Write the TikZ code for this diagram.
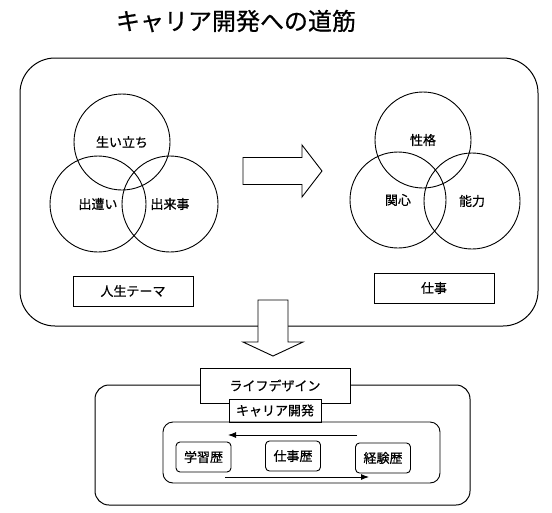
\documentclass[tikz,border=0pt]{standalone}
\usepackage{fontspec}
\setmainfont{Noto Sans CJK JP}[FakeBold=0.6]
\usetikzlibrary{arrows.meta}
\begin{document}
\begin{tikzpicture}[x=1pt,y=-1pt,
  every node/.style={font=\fontsize{13}{13}\selectfont},
  venn/.style={circle,draw,line width=0.9pt,minimum size=96pt,inner sep=0pt},
  lblbox/.style={draw,line width=0.9pt,fill=white,inner sep=0pt},
  histbox/.style={draw,line width=0.9pt,rounded corners=4pt,minimum width=55pt,minimum height=30pt,inner sep=0pt},
  bigarrow/.style={draw,line width=0.9pt,fill=white,line join=miter},
  flow/.style={line width=0.9pt,-{Latex[length=8pt,width=6pt]}}]
\useasboundingbox (0,0) rectangle (552,512);
\node[font=\fontsize{24}{24}\selectfont] (title) at (236,21) {キャリア開発への道筋};
% big container
\draw[line width=1pt,rounded corners=35pt] (20,58) rectangle (538,326);
% left venn
\node[venn] (c1) at (122,142) {生い立ち};
\node[venn] (c2) at (98,204) {出遭い};
\node[venn] (c3) at (170,204) {出来事};
\node[lblbox,minimum width=120pt,minimum height=30pt] (theme) at (133,291) {人生テーマ};
% right venn
\node[venn] (d1) at (423,140) {性格};
\node[venn] (d2) at (398,200) {関心};
\node[venn] (d3) at (472,201) {能力};
\node[lblbox,minimum width=120pt,minimum height=30pt] (work) at (434,288) {仕事};
% right big arrow
\draw[bigarrow] (243,157.5) -- (302,157.5) -- (302,145) -- (322,171) -- (302,197) -- (302,184.5) -- (243,184.5) -- cycle;
% down big arrow
\draw[bigarrow] (258,300) -- (288,300) -- (288,342) -- (303,342) -- (273,356) -- (243,342) -- (258,342) -- cycle;
% lower container
\draw[line width=1pt,rounded corners=14pt] (95,385) rectangle (470,505);
\node[lblbox,minimum width=150pt,minimum height=35pt] (life) at (275,385.5) {ライフデザイン};
\node[lblbox,minimum width=92pt,minimum height=23pt] (career) at (275,410.5) {キャリア開発};
\node[draw,line width=0.9pt,rounded corners=10pt,minimum width=277pt,minimum height=61pt,inner sep=0pt] (hist) at (301.5,452.5) {};
\node[histbox] (h1) at (203.5,457) {学習歴};
\node[histbox] (h2) at (293,456) {仕事歴};
\node[histbox] (h3) at (383,458) {経験歴};
\coordinate (a1s) at (357,435);
\coordinate (a1e) at (228,435);
\coordinate (a2s) at (225,477);
\coordinate (a2e) at (369,477);
\draw[flow] (a1s) -- (a1e);
\draw[flow] (a2s) -- (a2e);
\end{tikzpicture}
\end{document}
